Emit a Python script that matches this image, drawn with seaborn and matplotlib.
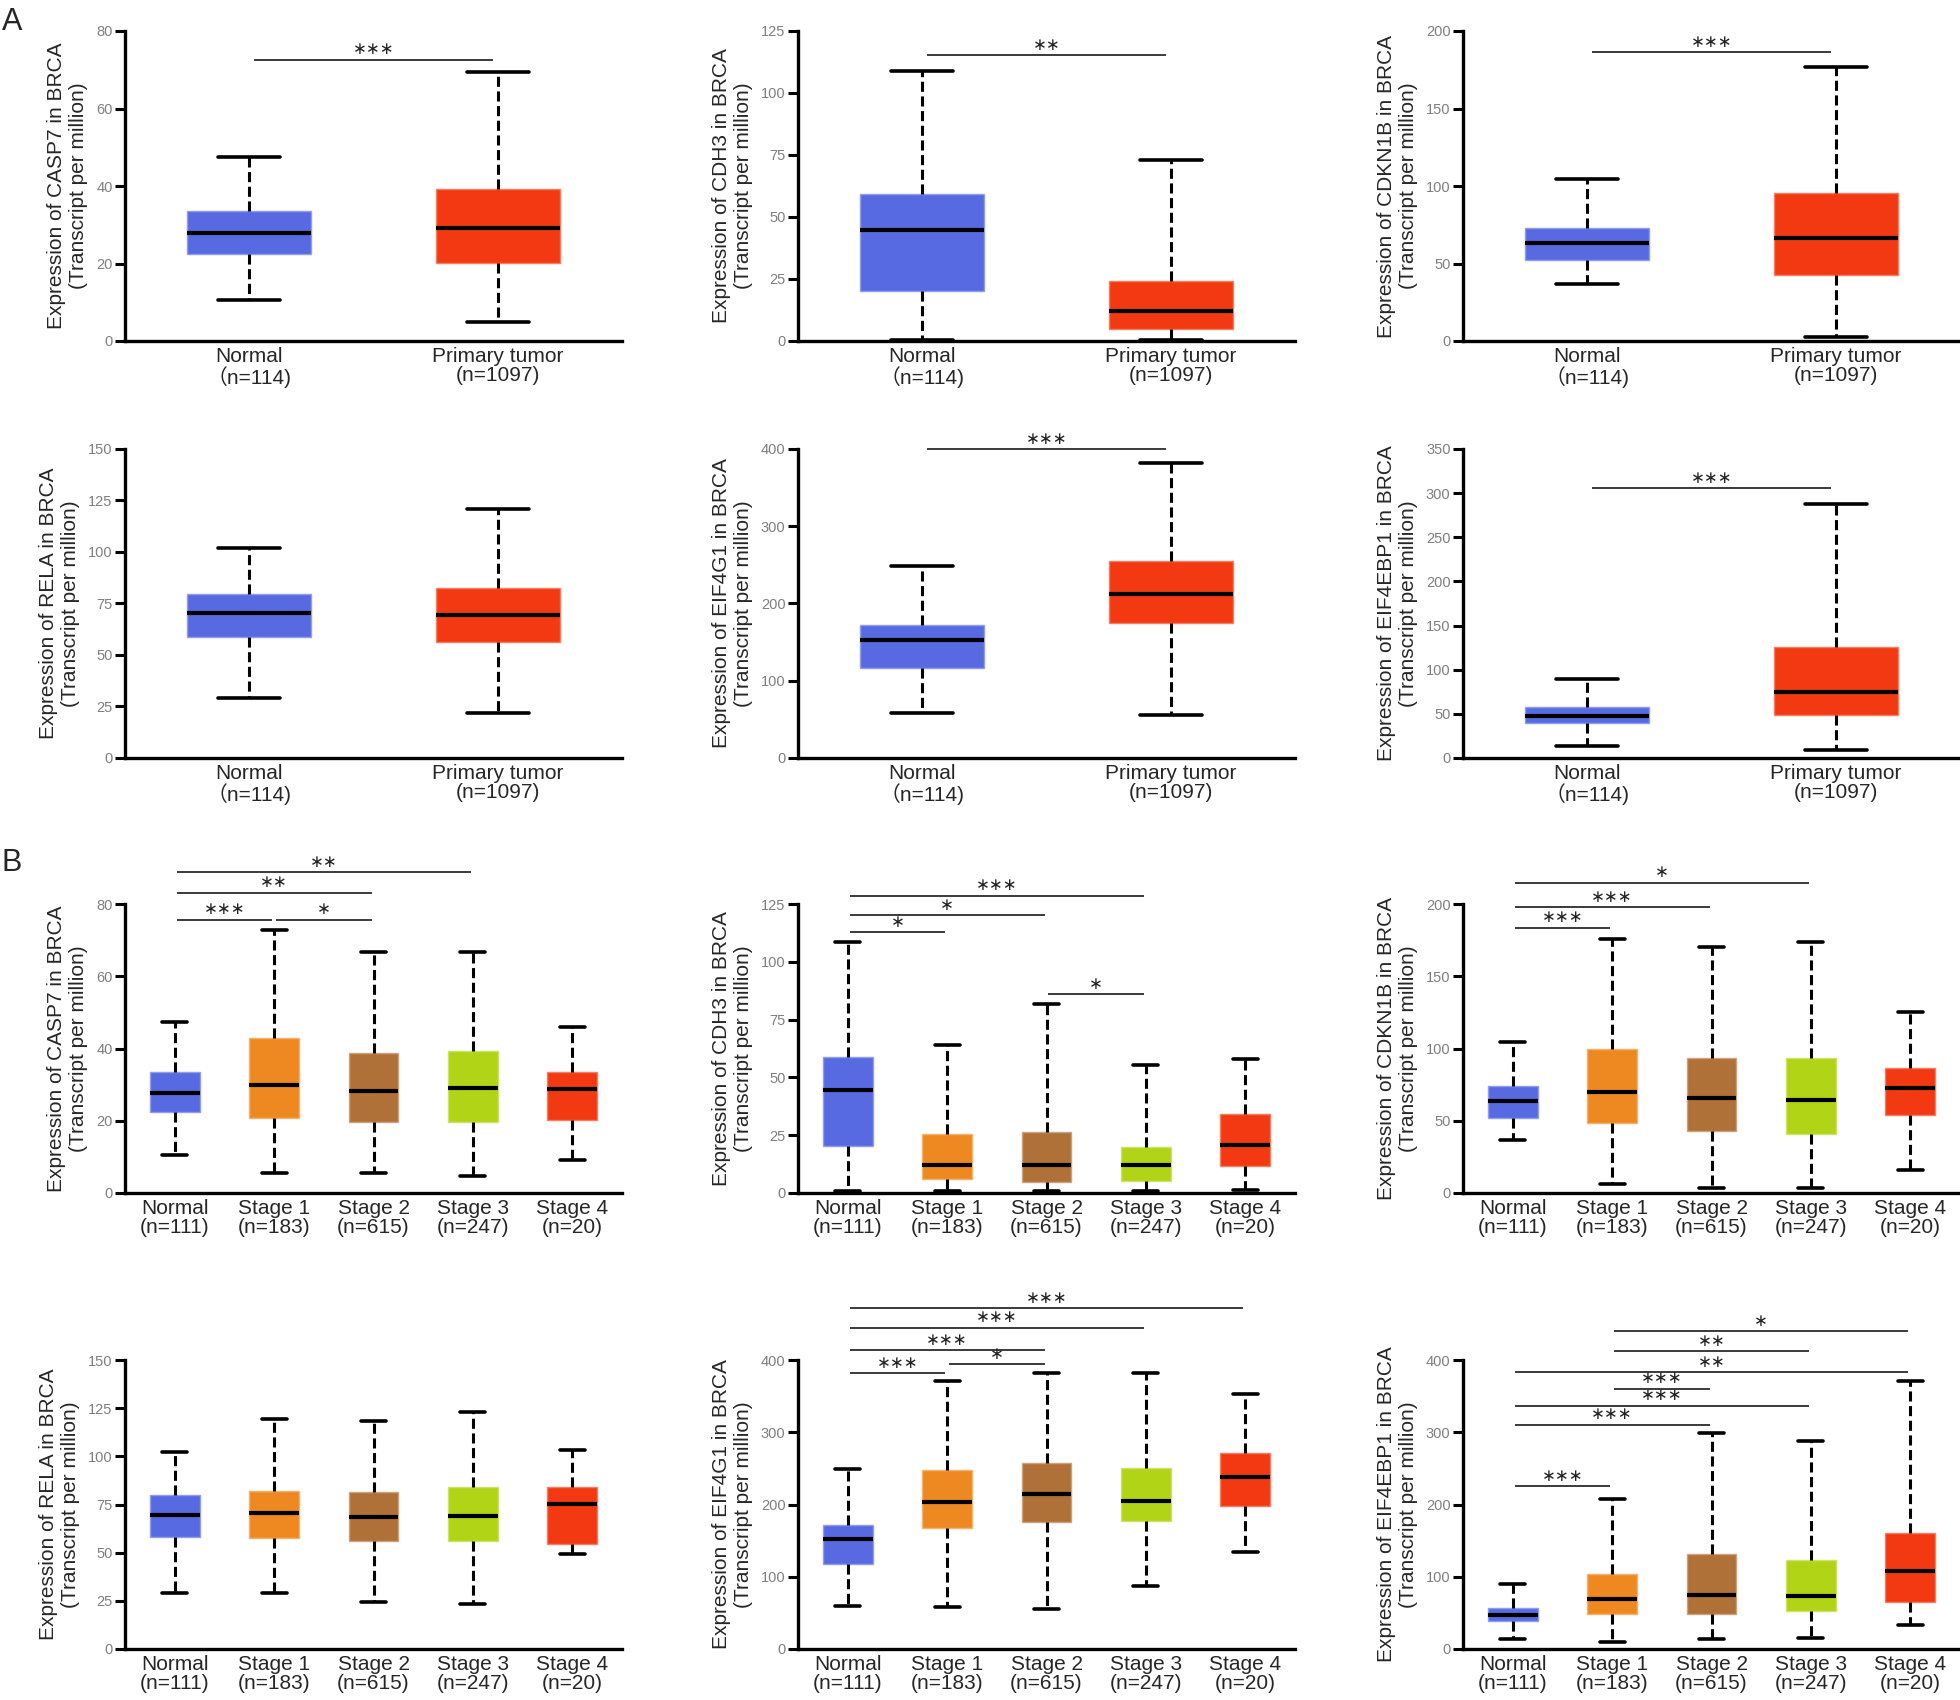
import pandas as pd
import matplotlib.pyplot as plt
import seaborn as sns

sns.set_style('ticks')
plt.rcParams['font.family'] = ['Liberation Sans', 'Noto Sans CJK SC', 'DejaVu Sans']

# groups (x tick labels)
tumor_groups = ['Normal\n（n=114)', 'Primary tumor\n(n=1097)']
stage_groups = ['Normal\n(n=111)', 'Stage 1\n(n=183)', 'Stage 2\n(n=615)',
                'Stage 3\n(n=247)', 'Stage 4\n(n=20)']

tumor_colors = ['#576AE2', '#F23911']
stage_colors = ['#576AE2', '#EE8921', '#AF7138', '#B2D416', '#F23911']

# box statistics, one tuple per group:
# (lower whisker, Q1, median, Q3, upper whisker)
casp7_tumor = [(10.5, 22.4, 27.8, 33.6, 47.4), (4.9, 20.1, 29.1, 39.3, 69.5)]
cdh3_tumor = [(0.6, 20.0, 44.6, 59.2, 109.0), (0.6, 5.0, 12.2, 24.3, 72.8)]
cdkn1b_tumor = [(36.8, 52.1, 63.1, 73.1, 104.2), (2.6, 42.6, 66.2, 95.8, 176.9)]
rela_tumor = [(29.2, 58.6, 70.2, 79.6, 102.0), (21.8, 56.4, 69.3, 82.4, 120.9)]
eif4g1_tumor = [(58.7, 116.5, 152.3, 172.0, 248.0), (55.2, 175.2, 212.7, 255.0, 381.9)]
eif4ebp1_tumor = [(13.2, 39.3, 48.0, 57.9, 89.7), (9.5, 49.2, 74.5, 125.2, 287.5)]

casp7_stage = [(10.5, 22.4, 27.7, 33.6, 47.4), (5.4, 20.7, 29.8, 42.8, 72.8),
               (5.4, 19.6, 28.2, 38.7, 66.6), (4.6, 19.6, 29.1, 39.3, 66.6),
               (9.2, 20.3, 28.7, 33.6, 46.0)]
cdh3_stage = [(0.7, 20.2, 44.7, 59.0, 108.6), (0.7, 6.1, 12.0, 25.7, 64.2),
              (0.7, 4.9, 12.0, 26.4, 81.7), (0.7, 5.2, 12.0, 19.9, 55.2),
              (1.4, 11.5, 20.6, 34.3, 58.1)]
cdkn1b_stage = [(36.9, 52.1, 63.4, 74.0, 104.7), (6.5, 48.7, 69.9, 99.9, 175.8),
                (3.2, 42.7, 65.5, 93.7, 170.5), (3.2, 41.1, 64.4, 93.2, 173.5),
                (15.7, 54.0, 72.9, 86.7, 125.0)]
rela_stage = [(29.1, 58.1, 69.7, 79.8, 102.0), (29.1, 57.6, 70.7, 82.2, 119.3),
              (24.5, 56.2, 68.3, 81.7, 118.4), (23.1, 56.2, 69.2, 84.1, 123.1),
              (49.2, 54.3, 75.3, 84.1, 103.2)]
eif4g1_stage = [(60.0, 117.8, 152.9, 171.8, 249.0), (58.2, 168.1, 202.8, 248.0, 371.4),
                (55.9, 176.4, 215.2, 256.8, 381.5), (87.8, 177.4, 205.5, 250.3, 381.5),
                (134.4, 198.2, 237.4, 270.7, 352.4)]
eif4ebp1_stage = [(13.9, 38.4, 47.2, 57.3, 89.7), (9.7, 48.1, 69.4, 103.6, 207.2),
                  (13.9, 49.0, 74.9, 131.8, 298.3), (15.3, 52.7, 73.1, 122.5, 287.2),
                  (32.8, 65.2, 107.7, 160.9, 370.4)]

# significance brackets: (group i, group j, height, stars)
casp7_tumor_sig = [(0, 1, 72.6, '***')]
cdh3_tumor_sig = [(0, 1, 115.3, '**')]
cdkn1b_tumor_sig = [(0, 1, 186.4, '***')]
rela_tumor_sig = []
eif4g1_tumor_sig = [(0, 1, 400, '***')]
eif4ebp1_tumor_sig = [(0, 1, 305.7, '***')]

casp7_stage_sig = [(0, 1, 75.7, '***'), (1, 2, 75.7, '*'), (0, 2, 83.1, '**'), (0, 3, 88.8, '**')]
cdh3_stage_sig = [(0, 1, 112.7, '*'), (0, 2, 120.1, '*'), (0, 3, 128.6, '***'), (2, 3, 86.1, '*')]
cdkn1b_stage_sig = [(0, 1, 183.6, '***'), (0, 2, 197.9, '***'), (0, 3, 214.8, '*')]
rela_stage_sig = []
eif4g1_stage_sig = [(0, 1, 382, '***'), (1, 2, 394.5, '*'), (0, 2, 413.6, '***'),
                    (0, 3, 444.5, '***'), (0, 4, 471.6, '***')]
eif4ebp1_stage_sig = [(0, 1, 225.2, '***'), (0, 2, 310.3, '***'), (0, 3, 336.6, '***'),
                      (1, 2, 360.2, '***'), (0, 4, 382.9, '**'), (1, 3, 412, '**'),
                      (1, 4, 439.8, '*')]

# y axis: (top, step)
casp7_axis = (80, 20)
cdh3_axis = (125, 25)
cdkn1b_axis = (200, 50)
rela_axis = (150, 25)
eif4g1_axis = (400, 100)
eif4ebp1_tumor_axis = (350, 50)
eif4ebp1_stage_axis = (400, 100)


def lighten(c, amt=0.35):
    return tuple(v + (1 - v) * amt for v in c[:3])


def draw_panel(ax, stats, groups, colors, gene, yaxis, sig):
    # five values per group -> quartiles land on the read-off values,
    # whiskers at min / max with whis=(0, 100)
    rows = [(g, v) for g, five in zip(groups, stats) for v in five]
    df = pd.DataFrame(rows, columns=['group', 'tpm'])
    sns.boxplot(data=df, x='group', y='tpm', hue='group', order=groups,
                hue_order=groups, palette=dict(zip(groups, colors)),
                saturation=1, width=0.5, whis=(0, 100), linecolor='black',
                linewidth=2.2, legend=False, ax=ax,
                boxprops={'linewidth': 1.0},
                medianprops={'linewidth': 3.0},
                whiskerprops={'linewidth': 2.2, 'linestyle': (0, (3.3, 1.5))},
                capprops={'linewidth': 2.6})
    for p in ax.patches:
        p.set_edgecolor(lighten(p.get_facecolor()))

    top, step = yaxis
    ax.set_ylim(0, top)
    ticks = list(range(0, top + 1, step))
    ax.set_yticks(ticks)
    ax.set_yticklabels([str(t) for t in ticks], fontsize=10.5, color='#7f7f7f')
    ax.tick_params(axis='y', length=7, width=2.2, color='black', pad=2)
    ax.tick_params(axis='x', length=0, labelsize=15, pad=4)
    for lbl in ax.get_xticklabels():
        lbl.set_linespacing(1.05)
    ax.set_xlabel('')
    ax.set_ylabel(f'Expression of {gene} in BRCA\n(Transcript per million)',
                  fontsize=15, linespacing=1.2, labelpad=6)
    sns.despine(ax=ax)
    for side in ['left', 'bottom']:
        ax.spines[side].set_linewidth(2.4)
        ax.spines[side].set_color('black')

    for i, j, y, stars in sig:
        ax.plot([i + 0.02, j - 0.02], [y, y], color='#3a3a3a', lw=1.4,
                clip_on=False, solid_capstyle='butt')
        ax.annotate('∗' * len(stars), xy=((i + j) / 2, y), xytext=(0, 1),
                    textcoords='offset points', ha='center', va='bottom',
                    fontsize=12, family='DejaVu Sans', color='#222222',
                    annotation_clip=False)
    # keep the categorical limits after the bracket lines
    ax.set_xlim(-0.5, len(groups) - 0.5)


W, H = 1960, 1700
fig = plt.figure(figsize=(19.6, 17), dpi=100)

col_left = [125, 798, 1463]
col_width = 497
row_span = [(31, 341), (449, 758), (904, 1193), (1360, 1649)]


def box_axes(row, col):
    top, bottom = row_span[row]
    return fig.add_axes([col_left[col] / W, 1 - bottom / H,
                         col_width / W, (bottom - top) / H])


draw_panel(box_axes(0, 0), casp7_tumor, tumor_groups, tumor_colors, 'CASP7', casp7_axis, casp7_tumor_sig)
draw_panel(box_axes(0, 1), cdh3_tumor, tumor_groups, tumor_colors, 'CDH3', cdh3_axis, cdh3_tumor_sig)
draw_panel(box_axes(0, 2), cdkn1b_tumor, tumor_groups, tumor_colors, 'CDKN1B', cdkn1b_axis, cdkn1b_tumor_sig)
draw_panel(box_axes(1, 0), rela_tumor, tumor_groups, tumor_colors, 'RELA', rela_axis, rela_tumor_sig)
draw_panel(box_axes(1, 1), eif4g1_tumor, tumor_groups, tumor_colors, 'EIF4G1', eif4g1_axis, eif4g1_tumor_sig)
draw_panel(box_axes(1, 2), eif4ebp1_tumor, tumor_groups, tumor_colors, 'EIF4EBP1', eif4ebp1_tumor_axis, eif4ebp1_tumor_sig)

draw_panel(box_axes(2, 0), casp7_stage, stage_groups, stage_colors, 'CASP7', casp7_axis, casp7_stage_sig)
draw_panel(box_axes(2, 1), cdh3_stage, stage_groups, stage_colors, 'CDH3', cdh3_axis, cdh3_stage_sig)
draw_panel(box_axes(2, 2), cdkn1b_stage, stage_groups, stage_colors, 'CDKN1B', cdkn1b_axis, cdkn1b_stage_sig)
draw_panel(box_axes(3, 0), rela_stage, stage_groups, stage_colors, 'RELA', rela_axis, rela_stage_sig)
draw_panel(box_axes(3, 1), eif4g1_stage, stage_groups, stage_colors, 'EIF4G1', eif4g1_axis, eif4g1_stage_sig)
draw_panel(box_axes(3, 2), eif4ebp1_stage, stage_groups, stage_colors, 'EIF4EBP1', eif4ebp1_stage_axis, eif4ebp1_stage_sig)

fig.text(0.001, 0.996, 'A', fontsize=22, va='top', ha='left')
fig.text(0.001, 0.501, 'B', fontsize=22, va='top', ha='left')

fig.savefig('out.png', dpi=100)
